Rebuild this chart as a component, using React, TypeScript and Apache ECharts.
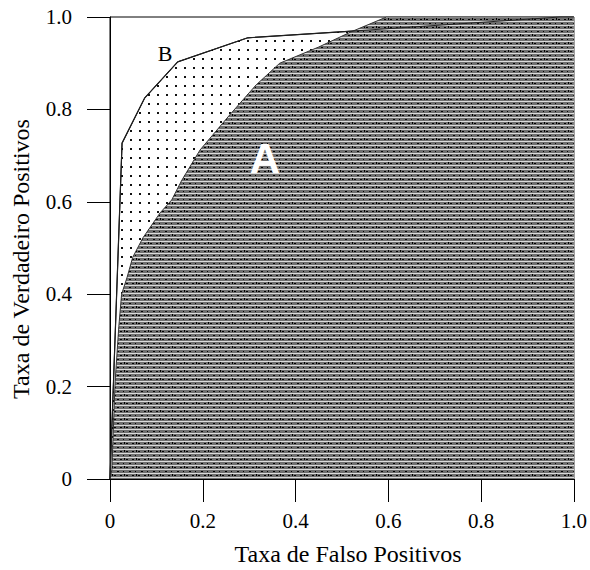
import React, { useEffect, useRef } from "react";
import * as echarts from "echarts";

// Curve A (inner ROC curve)
const fprA = [0, 0.004, 0.011, 0.019, 0.025, 0.037, 0.049, 0.071, 0.108, 0.133, 0.155, 0.194, 0.258, 0.315, 0.366, 0.45, 0.52, 0.596, 1.0];
const tprA = [0, 0.02, 0.21, 0.33, 0.4, 0.437, 0.48, 0.522, 0.576, 0.604, 0.647, 0.712, 0.788, 0.853, 0.9, 0.935, 0.968, 1.0, 1.0];
// Curve B (outer ROC curve)
const fprB = [0, 0.026, 0.075, 0.146, 0.297, 0.53, 0.72, 0.97, 1.0];
const tprB = [0, 0.727, 0.825, 0.903, 0.955, 0.97, 0.983, 1.0, 1.0];

const xTitle = "Taxa de Falso Positivos";
const yTitle = "Taxa de Verdadeiro Positivos";
const labelA = "A";
const labelB = "B";

function makeDots(): HTMLCanvasElement {
  const c = document.createElement("canvas");
  c.width = 9;
  c.height = 9;
  const g = c.getContext("2d")!;
  g.fillStyle = "#ffffff";
  g.fillRect(0, 0, 9, 9);
  g.fillStyle = "#111111";
  g.fillRect(4, 4, 2, 2);
  return c;
}

function makeHatch(): HTMLCanvasElement {
  const w = 12;
  const h = 8;
  const c = document.createElement("canvas");
  c.width = w;
  c.height = h;
  const g = c.getContext("2d")!;
  g.fillStyle = "#6f6f6f";
  g.fillRect(0, 0, w, h);
  g.fillStyle = "#dcdcdc";
  g.fillRect(0, 1, w, 1);
  g.fillRect(0, 5, w, 1);
  g.fillStyle = "#000000";
  g.fillRect(0, 3, 2, 1);
  g.fillRect(6, 3, 2, 1);
  g.fillRect(3, 7, 1, 1);
  g.fillRect(9, 7, 2, 1);
  g.fillRect(4, 2, 1, 2);
  return c;
}

export default function App() {
  const ref = useRef<HTMLDivElement>(null);
  useEffect(() => {
    if (!ref.current) return;
    const chart = echarts.init(ref.current, undefined, { renderer: "svg" });
    const dataA = fprA.map((x, i) => [x, tprA[i]]);
    const dataB = fprB.map((x, i) => [x, tprB[i]]);
    const serif = "Liberation Serif";
    const sans = "Liberation Sans";
    const fmt = (v: number) => (v === 0 ? "0" : v.toFixed(1));
    chart.setOption({
      animation: false,
      backgroundColor: "#ffffff",
      grid: {
        left: 110,
        right: 15,
        top: 17,
        bottom: 91,
        show: true,
        borderColor: "#000",
        borderWidth: 1,
        backgroundColor: "transparent",
      },
      xAxis: {
        type: "value",
        min: 0,
        max: 1,
        interval: 0.2,
        axisLine: { show: true, lineStyle: { color: "#000", width: 1 } },
        axisTick: { show: true, length: 23, lineStyle: { color: "#000", width: 1 } },
        splitLine: { show: false },
        axisLabel: {
          formatter: fmt,
          color: "#000",
          fontFamily: serif,
          fontSize: 21,
          margin: 31,
        },
      },
      yAxis: {
        type: "value",
        min: 0,
        max: 1,
        interval: 0.2,
        axisLine: { show: true, lineStyle: { color: "#000", width: 1 } },
        axisTick: { show: true, length: 23, lineStyle: { color: "#000", width: 1 } },
        splitLine: { show: false },
        axisLabel: {
          formatter: fmt,
          color: "#000",
          fontFamily: serif,
          fontSize: 21,
          margin: 38,
        },
      },
      series: [
        {
          name: "B",
          type: "line",
          data: dataB,
          symbol: "none",
          z: 2,
          lineStyle: { color: "#000", width: 1.2 },
          areaStyle: { color: { image: makeDots(), repeat: "repeat" }, opacity: 1 },
        },
        {
          name: "A",
          type: "line",
          data: dataA,
          symbol: "none",
          z: 3,
          lineStyle: { color: "#333", width: 1 },
          areaStyle: { color: { image: makeHatch(), repeat: "repeat" }, opacity: 1 },
        },
        {
          name: "B-line",
          type: "line",
          data: dataB,
          symbol: "none",
          z: 4,
          lineStyle: { color: "#222", width: 1 },
        },
      ],
      graphic: [
        {
          type: "text",
          x: 348,
          y: 554,
          z: 100,
          style: { text: xTitle, fontFamily: serif, fontSize: 24, fill: "#000", align: "center", verticalAlign: "middle" },
        },
        {
          type: "text",
          x: 21,
          y: 259,
          rotation: Math.PI / 2,
          z: 100,
          style: { text: yTitle, fontFamily: serif, fontSize: 24, fill: "#000", align: "center", verticalAlign: "middle" },
        },
        {
          type: "text",
          x: 265,
          y: 158,
          z: 100,
          style: {
            text: labelA,
            fontFamily: sans,
            fontWeight: "bold",
            fontSize: 42,
            fill: "#ffffff",
            align: "center",
            verticalAlign: "middle",
          },
        },
        {
          type: "text",
          x: 165,
          y: 53,
          z: 100,
          style: { text: labelB, fontFamily: serif, fontSize: 22, fill: "#000", align: "center", verticalAlign: "middle" },
        },
      ],
    });
    return () => chart.dispose();
  }, []);
  return (
    <div
      ref={ref}
      style={{ position: "fixed", left: 0, top: 0, width: 590, height: 570, background: "#fff" }}
    />
  );
}
